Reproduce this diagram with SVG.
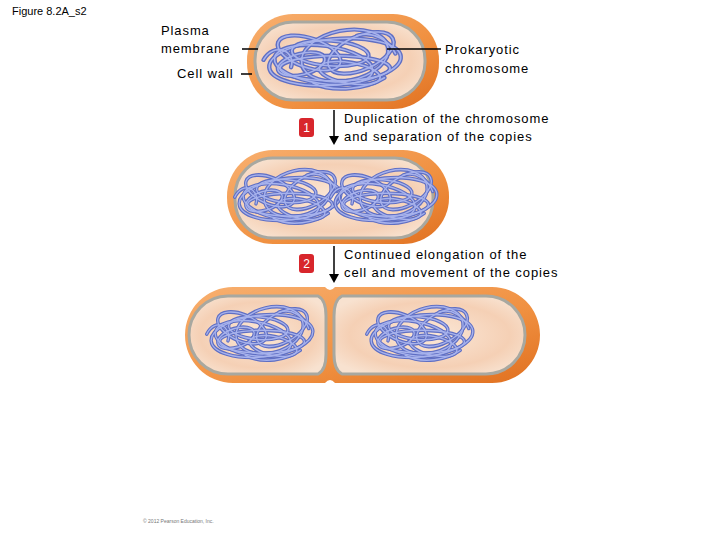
<svg xmlns="http://www.w3.org/2000/svg" width="720" height="540" viewBox="0 0 720 540">
<defs>
<linearGradient id="og" x1="0" y1="0" x2="1" y2="1"><stop offset="0" stop-color="#f8b070"/><stop offset="0.6" stop-color="#f09040"/><stop offset="1" stop-color="#e07020"/></linearGradient>
<radialGradient id="cg" cx="0.5" cy="0.5" r="0.6"><stop offset="0" stop-color="#fbe8d8"/><stop offset="0.7" stop-color="#f5d0b5"/><stop offset="1" stop-color="#f8e2d0"/></radialGradient>
<g id="chr" fill="none" stroke-linecap="round">
<g stroke="#5f6fc4" stroke-width="4">
<ellipse cx="0" cy="0" rx="60" ry="22" transform="rotate(-5)"/>
<ellipse cx="-10" cy="4" rx="45" ry="18" transform="rotate(8)"/>
<ellipse cx="10" cy="-4" rx="40" ry="24" transform="rotate(-12)"/>
<ellipse cx="-25" cy="0" rx="30" ry="14" transform="rotate(20)"/>
<ellipse cx="25" cy="2" rx="32" ry="16" transform="rotate(-25)"/>
<ellipse cx="0" cy="6" rx="50" ry="12"/>
<ellipse cx="-5" cy="-8" rx="35" ry="12" transform="rotate(4)"/>
<ellipse cx="15" cy="8" rx="28" ry="10" transform="rotate(10)"/>
<ellipse cx="-30" cy="-6" rx="22" ry="10" transform="rotate(-15)"/>
<path d="M-65 -2 C-55 -20 -35 -10 -40 5 M20 -25 C35 -30 50 -20 55 -8 M-20 20 C0 30 30 25 45 15"/>
</g>
<g stroke="#a7b2ec" stroke-width="1.5">
<ellipse cx="0" cy="0" rx="60" ry="22" transform="rotate(-5)"/>
<ellipse cx="-10" cy="4" rx="45" ry="18" transform="rotate(8)"/>
<ellipse cx="10" cy="-4" rx="40" ry="24" transform="rotate(-12)"/>
<ellipse cx="-25" cy="0" rx="30" ry="14" transform="rotate(20)"/>
<ellipse cx="25" cy="2" rx="32" ry="16" transform="rotate(-25)"/>
<ellipse cx="0" cy="6" rx="50" ry="12"/>
<ellipse cx="-5" cy="-8" rx="35" ry="12" transform="rotate(4)"/>
<ellipse cx="15" cy="8" rx="28" ry="10" transform="rotate(10)"/>
<ellipse cx="-30" cy="-6" rx="22" ry="10" transform="rotate(-15)"/>
<path d="M-65 -2 C-55 -20 -35 -10 -40 5 M20 -25 C35 -30 50 -20 55 -8 M-20 20 C0 30 30 25 45 15"/>
</g>
</g>
</defs>
<style>
text{font-family:"Liberation Sans",Arial,sans-serif;font-size:13px;fill:#000;letter-spacing:0.9px}
.outer{fill:url(#og)}
.inner{fill:url(#cg);stroke:#a8a8a0;stroke-width:3}
.ln{stroke:#000;stroke-width:1.5;fill:none}
.badge{fill:#d8262c}
.bt{fill:#fff;font-size:12px;text-anchor:middle;letter-spacing:0}
</style>
<rect width="720" height="540" fill="#fff"/>
<text x="12" y="15" style="font-size:11px;letter-spacing:0">Figure 8.2A_s2</text>

<g id="cell1">
<rect class="outer" x="247" y="14" width="192" height="95" rx="46"/>
<rect class="inner" x="255" y="22" width="170" height="78" rx="38"/>
<use href="#chr" transform="translate(335,62) scale(1.1,1.05)"/>
</g>
<g id="cell2">
<rect class="outer" x="227" y="150" width="222" height="94" rx="46"/>
<rect class="inner" x="235" y="158" width="198" height="80" rx="38"/>
<use href="#chr" transform="translate(290,199) scale(0.85,0.95)"/>
<use href="#chr" transform="translate(386,199) scale(0.85,0.95)"/>
</g>
<g id="cell3">
<path class="outer" d="M233 287 H325 Q330 293 335 287 H492 A48 48 0 0 1 492 383 H335 Q330 377 325 383 H233 A48 48 0 0 1 233 287 Z"/>
<path class="inner" d="M228 296 H318 Q326 300 326 316 V354 Q326 370 318 374 H228 A39 39 0 0 1 228 296 Z"/>
<path class="inner" d="M342 296 H486 A39 39 0 0 1 486 374 H342 Q334 370 334 354 V316 Q334 300 342 296 Z"/>
<use href="#chr" transform="translate(262,336) scale(0.85,0.95)"/>
<use href="#chr" transform="translate(422,336) scale(0.85,0.95)"/>
</g>

<g id="labels">
<text x="161" y="35">Plasma</text>
<text x="161" y="53">membrane</text>
<text x="177" y="78">Cell wall</text>
<text x="445" y="54">Prokaryotic</text>
<text x="445" y="73">chromosome</text>
<text x="344" y="123">Duplication of the chromosome</text>
<text x="344" y="141">and separation of the copies</text>
<text x="344" y="259">Continued elongation of the</text>
<text x="344" y="277">cell and movement of the copies</text>
<text x="143" y="523" style="font-size:5px;fill:#777;letter-spacing:0">© 2012 Pearson Education, Inc.</text>
</g>
<g id="badge1"><rect class="badge" x="299" y="118" width="15" height="19" rx="3"/><text class="bt" x="306.5" y="132">1</text></g>
<g id="badge2"><rect class="badge" x="299" y="254" width="15" height="19" rx="3"/><text class="bt" x="306.5" y="268">2</text></g>
<g id="connectors">
<path class="ln" d="M242 49 H258 M241 74 H252 M387 49 H441"/>
<path class="ln" d="M334 110 V138" stroke-width="2"/><path d="M329 136 L334 145 L339 136 Z"/>
<path class="ln" d="M334 246 V276" stroke-width="2"/><path d="M329 274 L334 283 L339 274 Z"/>
</g>
</svg>
